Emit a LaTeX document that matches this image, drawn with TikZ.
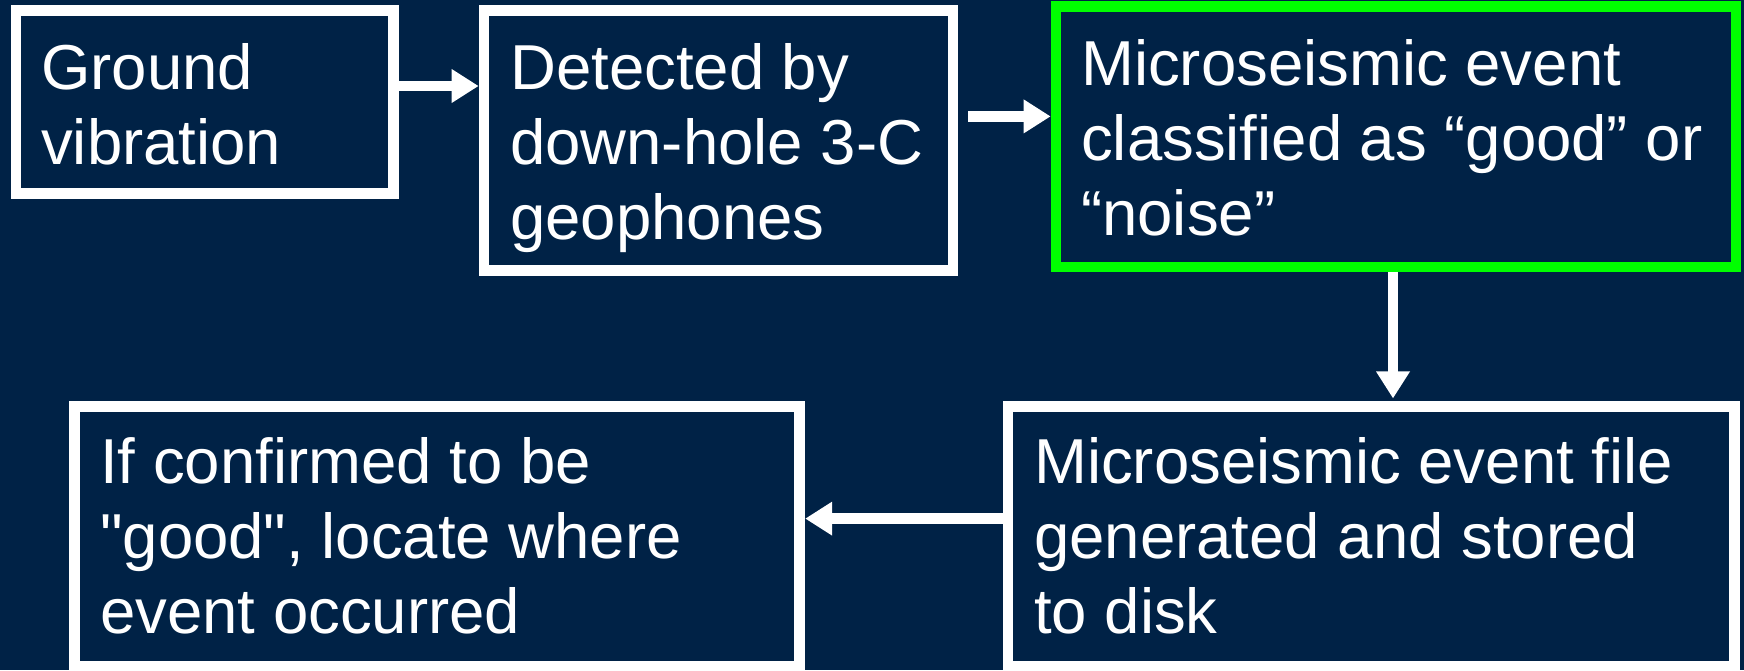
\documentclass[tikz,border=0pt]{standalone}
\usepackage{fontspec}
\setmainfont{Liberation Sans}[Ligatures=TeXOff]
\usetikzlibrary{arrows.meta}
\definecolor{bg}{RGB}{0,34,70}
\definecolor{grn}{RGB}{0,255,0}
\begin{document}
\begin{tikzpicture}[x=1pt,y=-1pt,
  box/.style={draw=white, line width=10.7pt, fill=bg, rectangle, inner sep=0pt, outer sep=5.35pt},
  gbox/.style={box, draw=grn},
  txt/.style={anchor=north west, inner sep=0pt, align=left, text=white, font=\fontsize{63.5}{75}\selectfont},
  arr/.style={draw=white, line width=10.7pt, -{Triangle[length=27pt,width=32pt]}}
]
\fill[bg] (0,0) rectangle (1744,670);
\useasboundingbox (0,0) rectangle (1744,670);

\node[box, minimum width=377.5pt, minimum height=183pt] (b1) at (204.75,102) {};
\node[box, minimum width=469pt, minimum height=259.8pt] (b2) at (718.5,140.4) {};
\node[gbox, minimum width=680pt, minimum height=260.5pt] (b3) at (1396,136.75) {};
\node[box, minimum width=726.5pt, minimum height=259.6pt] (b4) at (1371.25,536.6) {};
\node[box, minimum width=725.1pt, minimum height=259.6pt] (b5) at (437.25,536.6) {};

\node[txt] (t1) at (41,43) {Ground\\vibration};
\node[txt] (t2) at (510,43) {Detected by\\down-hole 3-C\\geophones};
\node[txt] (t3) at (1081,39) {Microseismic event\\classified as “good” or\\“noise”};
\node[txt] (t4) at (1034,437) {Microseismic event file\\generated and stored\\to disk};
\node[txt] (t5) at (100,437) {If confirmed to be\\"good", locate where\\event occurred};

\coordinate (a1) at ([yshift=16pt]b1.east);
\draw[arr] (a1) -- (a1 -| b2.west);
\coordinate (a2) at ([xshift=10pt,yshift=24pt]b2.east);
\draw[arr] (a2) -- (a2 -| b3.west);
\coordinate (a3) at ([xshift=-3pt]b3.south);
\draw[arr, shorten >=3pt] (a3) -- (a3 |- b4.north);
\coordinate (a4) at ([yshift=18pt]b4.west);
\draw[arr] (a4) -- (a4 -| b5.east);
\end{tikzpicture}
\end{document}
